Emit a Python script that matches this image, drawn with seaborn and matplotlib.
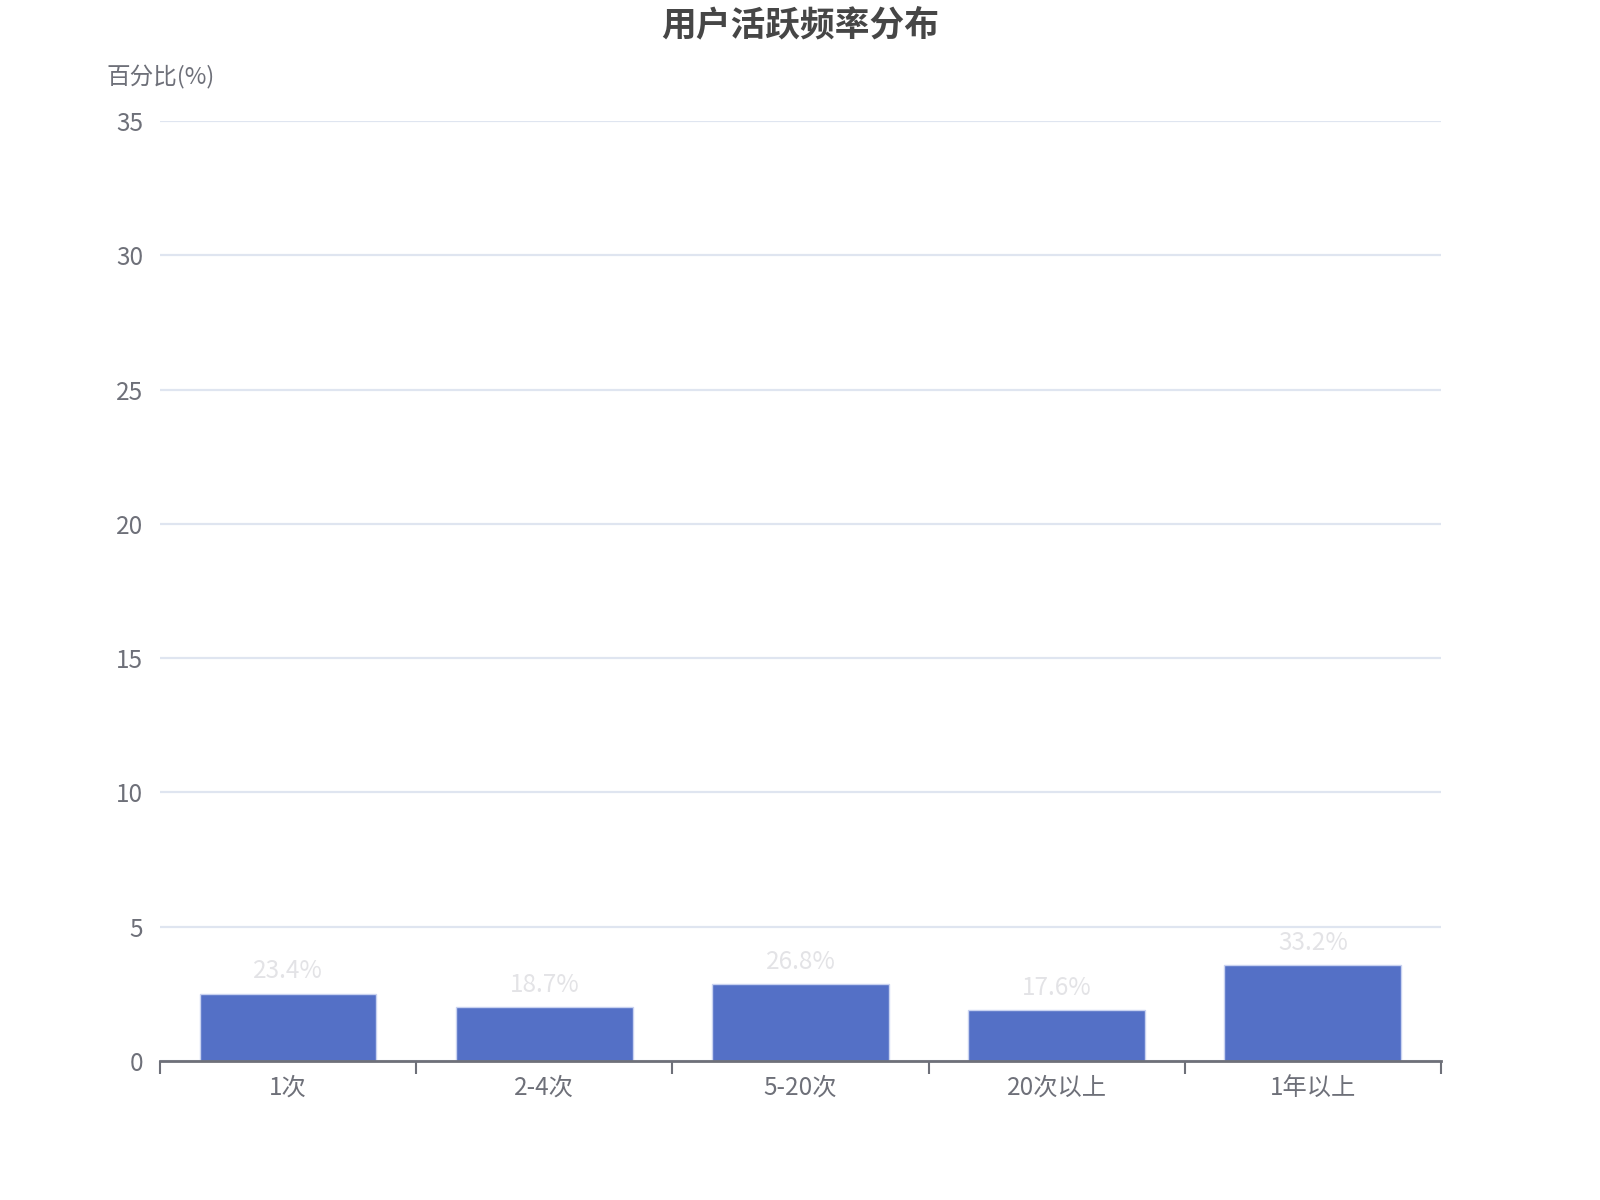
import matplotlib
matplotlib.use("Agg")
import matplotlib.pyplot as plt
import seaborn as sns
import pandas as pd

# data
categories = ["1次", "2-4次", "5-20次", "20次以上", "1年以上"]
bar_values = [2.5, 2.0, 2.86, 1.88, 3.55]
bar_labels = ["23.4%", "18.7%", "26.8%", "17.6%", "33.2%"]
y_ticks = [0, 5, 10, 15, 20, 25, 30, 35]

df = pd.DataFrame({"category": categories, "value": bar_values})

sns.set_theme(style="white")
plt.rcParams["font.family"] = ["Noto Sans CJK SC", "DejaVu Sans"]

fig = plt.figure(figsize=(16, 12), dpi=100)
ax = fig.add_axes([0.1, 0.116, 0.8006, 0.783])

sns.barplot(data=df, x="category", y="value", color="#5470c6", saturation=1,
            width=0.69, edgecolor="#c9d2f0", linewidth=1, ax=ax, zorder=3)

ax.set_xlim(-0.5, len(categories) - 0.5)
ax.set_ylim(0, 35)
ax.set_yticks(y_ticks)
ax.set_yticklabels([str(t) for t in y_ticks])
ax.yaxis.grid(True, color="#dfe5f0", linewidth=1.6, zorder=0)
ax.xaxis.grid(False)

for s in ["top", "right", "left"]:
    ax.spines[s].set_visible(False)
ax.spines["bottom"].set_color("#6e7079")
ax.spines["bottom"].set_linewidth(2)
ax.spines["bottom"].set_zorder(4)

ax.tick_params(axis="y", left=False, length=0, pad=12, labelsize=17.5,
               labelcolor="#6e7079")
ax.tick_params(axis="x", which="major", length=0, pad=10, labelsize=17.5,
               labelcolor="#6e7079")
ax.set_xticks([i - 0.5 for i in range(len(categories) + 1)], minor=True)
ax.tick_params(axis="x", which="minor", bottom=True, length=9, width=1.5,
               color="#6e7079", direction="out")

ax.set_xlabel("")
ax.set_ylabel("")

for i, (v, lab) in enumerate(zip(bar_values, bar_labels)):
    ax.annotate(lab, (i, v), xytext=(0, 16), textcoords="offset points",
                ha="center", va="center", fontsize=17.5, color="#e3e3e6")

fig.text(0.0665, 1 - 77 / 1200, "百分比(%)", fontsize=17, color="#6e7079",
         ha="left", va="center")
fig.text(0.5, 1 - 25 / 1200, "用户活跃频率分布", fontsize=25, fontweight="heavy",
         color="#464646", ha="center", va="center")

fig.savefig("out.png", dpi=100, facecolor="white")
